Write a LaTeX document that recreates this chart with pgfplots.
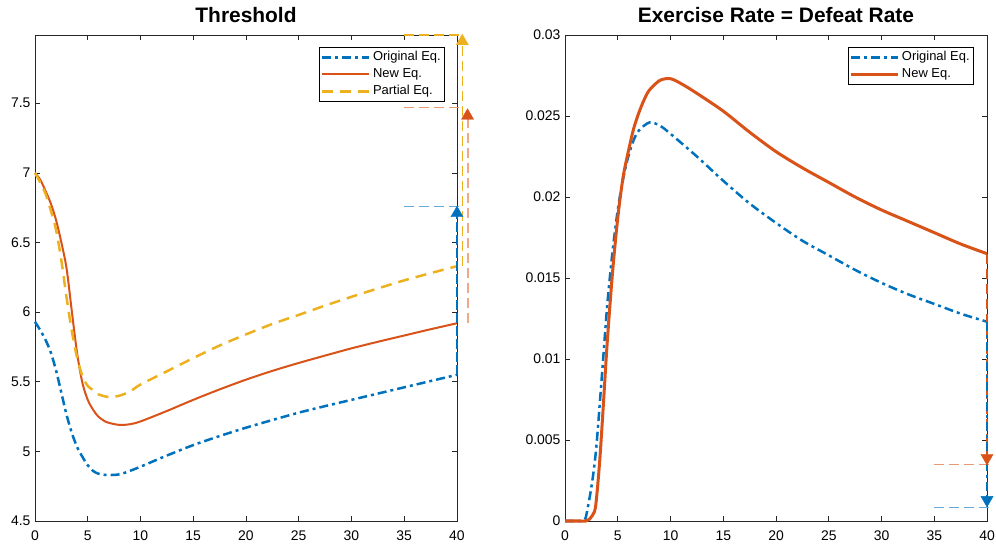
\documentclass[border=0pt]{standalone}
\usepackage{fontspec}
\setmainfont{Liberation Sans}
\usepackage{pgfplots}
\pgfplotsset{compat=1.18}
\definecolor{mBlue}{RGB}{0,114,189}
\definecolor{mOrange}{RGB}{217,83,25}
\definecolor{mYellow}{RGB}{237,177,32}
\definecolor{axgray}{RGB}{38,38,38}

\pgfplotsset{
  matlab/.style={
    scale only axis, width=422bp, height=486bp,
    xmin=0, xmax=40, xtick={0,5,...,40},
    tick align=inside, major tick length=5bp,
    axis line style={axgray, line width=0.6bp},
    every tick/.style={axgray, line width=0.6bp},
    tick label style={font=\fontsize{14}{16}\selectfont, text=black},
    /pgf/number format/assume math mode=true,
    xticklabel style={yshift=-6bp},
    yticklabel style={xshift=-1bp},
    title style={font=\bfseries\fontsize{21}{24}\selectfont, at={(0.5,1)}, anchor=base, yshift=7bp},
    clip=false,
    legend cell align=left,
    legend style={font=\fontsize{13}{15}\selectfont, draw=black, line width=0.6bp,
      inner sep=1.5bp, row sep=0pt, anchor=north east,
      nodes={inner sep=2.5bp, text height=9bp, text depth=3bp}},
    legend image code/.code={\draw[#1] (0bp,0bp) -- (47bp,0bp);},
  },
  origq/.style={mBlue, line width=2.5bp, dash pattern=on 9bp off 4bp on 3bp off 4bp},
  parq/.style={mYellow, line width=2.5bp, dash pattern=on 11bp off 7bp},
  guide/.style={forget plot, line width=1.1bp, dash pattern=on 10bp off 5bp},
  tri/.style={forget plot, only marks, mark=triangle*, mark size=7bp, mark options={fill=#1, draw=#1}},
  trid/.style={forget plot, only marks, mark=triangle*, mark size=7bp, mark options={fill=#1, draw=#1, rotate=180}},
}

\pgfplotstableread{
x y
0 5.93
0.5 5.87
1 5.80
1.5 5.71
2 5.58
2.5 5.42
3 5.26
3.5 5.13
4 5.03
4.5 4.96
5 4.90
5.5 4.86
6 4.84
6.8 4.83
8 4.835
9 4.86
10 4.89
12.5 4.97
15 5.045
17.5 5.11
20 5.17
22.5 5.225
25 5.278
27.5 5.325
30 5.37
32.5 5.415
35 5.46
37.5 5.505
40 5.55
}\thrOrig

\pgfplotstableread{
x y
0 7.00
0.5 6.95
1 6.87
1.5 6.78
2 6.66
2.5 6.50
3 6.31
3.5 6.00
4 5.70
4.5 5.49
5 5.37
5.5 5.30
6 5.25
6.8 5.21
8 5.19
9 5.195
10 5.215
12.5 5.29
15 5.37
17.5 5.445
20 5.515
22.5 5.578
25 5.635
27.5 5.688
30 5.74
32.5 5.787
35 5.832
37.5 5.877
40 5.92
}\thrNew

\pgfplotstableread{
x y
0 7.00
0.5 6.93
1 6.85
1.5 6.73
2 6.59
2.5 6.37
3 6.10
3.5 5.86
4 5.67
4.5 5.54
5 5.47
5.5 5.44
6 5.41
7 5.39
8 5.40
9 5.43
10 5.48
12.5 5.575
15 5.67
17.5 5.76
20 5.84
22.5 5.915
25 5.98
27.5 6.047
30 6.11
32.5 6.17
35 6.228
37.5 6.28
40 6.33
}\thrPart

\pgfplotstableread{
x y
0 0
0.5 0
1 0
1.5 0
1.8 0.00005
2 0.0003
2.4 0.0017
2.7 0.0030
3 0.0048
3.5 0.0090
4 0.0133
4.5 0.0166
5 0.0192
5.5 0.0211
6 0.0225
6.5 0.0235
7 0.0241
8 0.0246
9 0.0244
10 0.0239
12.5 0.0225
15 0.0210
17.5 0.0196
20 0.0184
22.5 0.0173
25 0.0164
27.5 0.0155
30 0.0147
32.5 0.0140
35 0.0134
37.5 0.0128
40 0.0123
}\rateOrig

\pgfplotstableread{
x y
0 0
0.5 0
1 0
1.5 0
2 0
2.3 0.0001
2.8 0.0006
3.0 0.0015
3.3 0.0038
3.6 0.0068
4 0.0110
4.5 0.0153
5 0.0187
5.5 0.0212
6 0.0228
6.5 0.0242
7 0.0252
7.5 0.0260
8 0.0266
9 0.0272
10 0.0273
11 0.0270
12.5 0.0264
15 0.0253
17.5 0.0240
20 0.0228
22.5 0.0218
25 0.0209
27.5 0.0200
30 0.0192
32.5 0.0185
35 0.0178
37.5 0.0171
40 0.0165
}\rateNew

\begin{document}
\begin{tikzpicture}
\path[use as bounding box] (0,0) rectangle (996bp,546bp);

% left: threshold
\begin{axis}[matlab, at={(35bp,25bp)}, anchor=south west,
  title={Threshold},
  ymin=4.5, ymax=7.99, ytick={4.5,5,5.5,6,6.5,7,7.5},
  legend style={at={(0.9716,0.975)}}]
\addplot[origq, smooth] table {\thrOrig};
\addlegendentry{Original Eq.}
\addplot[mOrange, line width=2bp, smooth] table {\thrNew};
\addlegendentry{New Eq.}
\addplot[parq, smooth] table {\thrPart};
\addlegendentry{Partial Eq.}

\addplot[guide, mBlue!60!white] coordinates {(35,6.76) (40.5,6.76)};
\addplot[guide, mOrange!60!white] coordinates {(35,7.47) (40.6,7.47)};
\addplot[guide, mYellow] coordinates {(35,7.99) (40.5,7.99)};
\addplot[forget plot, mYellow, line width=1.3bp, dash pattern=on 10bp off 5bp] coordinates {(40.5,6.33) (40.5,7.99)};
\addplot[forget plot, mOrange!50!white, line width=2bp, dash pattern=on 10bp off 5bp] coordinates {(41,5.92) (41,7.41)};
\addplot[forget plot, mBlue, line width=1.5bp, dash pattern=on 10bp off 3bp] coordinates {(40,5.55) (40,6.71)};
\addplot[tri=mBlue] coordinates {(40,6.71)};
\addplot[tri=mOrange] coordinates {(41,7.41)};
\addplot[tri=mYellow] coordinates {(40.5,7.945)};
\end{axis}

% right: exercise rate
\begin{axis}[matlab, at={(565bp,25bp)}, anchor=south west,
  title={Exercise Rate = Defeat Rate},
  ymin=0, ymax=0.03, ytick={0,0.005,0.01,0.015,0.02,0.025,0.03},
  scaled y ticks=false,
  yticklabel style={/pgf/number format/fixed, /pgf/number format/precision=3},
  legend style={at={(0.969,0.975)}}]
\addplot[origq, smooth] table {\rateOrig};
\addlegendentry{Original Eq.}
\addplot[mOrange, line width=3bp, smooth] table {\rateNew};
\addlegendentry{New Eq.}

\addplot[guide, mOrange!60!white] coordinates {(35,0.0035) (40.5,0.0035)};
\addplot[guide, mBlue!60!white] coordinates {(35,0.00086) (40.5,0.00086)};
\addplot[forget plot, mOrange, line width=1.5bp, dash pattern=on 10bp off 5bp] coordinates {(40,0.0165) (40,0.0039)};
\addplot[forget plot, mBlue, line width=1.5bp, dash pattern=on 9bp off 4bp on 3bp off 4bp] coordinates {(40,0.0123) (40,0.0013)};
\addplot[trid=mOrange] coordinates {(40,0.00389)};
\addplot[trid=mBlue] coordinates {(40,0.0013)};
\end{axis}
\end{tikzpicture}
\end{document}
